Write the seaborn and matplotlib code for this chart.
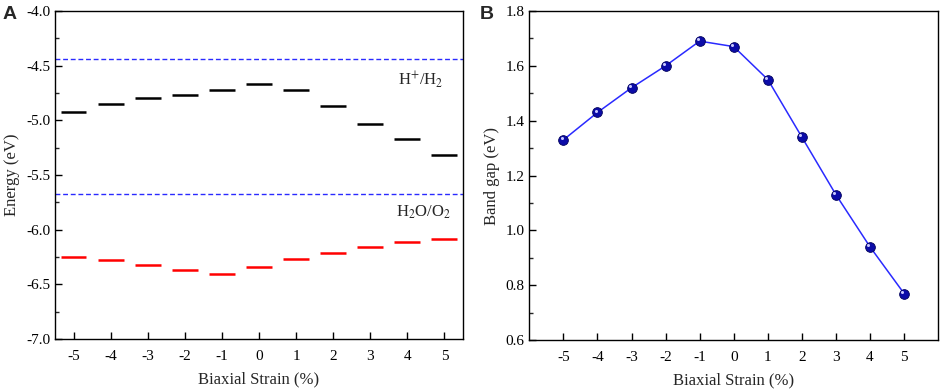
import numpy as np
import pandas as pd
import matplotlib.pyplot as plt
import matplotlib.transforms as mtrans
import seaborn as sns

# data
strain = [-5, -4, -3, -2, -1, 0, 1, 2, 3, 4, 5]
cbm = [-4.92, -4.85, -4.80, -4.77, -4.72, -4.67, -4.72, -4.87, -5.03, -5.17, -5.32]
vbm = [-6.25, -6.28, -6.32, -6.37, -6.41, -6.34, -6.27, -6.21, -6.16, -6.11, -6.09]
band_gap = [1.33, 1.43, 1.52, 1.60, 1.69, 1.67, 1.55, 1.34, 1.13, 0.94, 0.77]
h_level = -4.44
o_level = -5.67

sns.set_style("ticks")
plt.rcParams['font.family'] = ['Liberation Serif', 'DejaVu Serif']
plt.rcParams['mathtext.fontset'] = 'stix'
plt.rcParams['axes.unicode_minus'] = False

df = pd.DataFrame({'strain': strain, 'cbm': cbm, 'vbm': vbm, 'gap': band_gap})

fig = plt.figure(figsize=(9.41, 3.91), dpi=100)
ax1 = fig.add_axes([0.0584, 0.133, 0.4336, 0.839])
ax2 = fig.add_axes([0.5625, 0.130, 0.4345, 0.842])

# Panel A: band edges
x = df['strain'].to_numpy()
ax1.hlines(df['cbm'], x - 0.35, x + 0.35, color='black', lw=1.8)
ax1.hlines(df['vbm'], x - 0.35, x + 0.35, color='red', lw=1.8)
ax1.axhline(h_level, color='#2a2aff', ls=(0, (3.5, 2)), lw=1)
ax1.axhline(o_level, color='#2a2aff', ls=(0, (3.5, 2)), lw=1)
ax1.text(4.37, h_level - 0.19, r'H$^{+}$/H$_2$', ha='center', va='center', fontsize=12)
ax1.text(4.45, o_level - 0.17, r'H$_2$O/O$_2$', ha='center', va='center', fontsize=12)
ax1.set_xlim(-5.5, 5.5)
ax1.set_ylim(-7.0, -4.0)
ax1.set_yticks(np.arange(-7.0, -3.99, 0.5))
ax1.set_yticks(np.arange(-6.75, -4.0, 0.5), minor=True)
ax1.set_xticks(strain)
ax1.set_xlabel('Biaxial Strain (%)', fontsize=12, labelpad=6)
ax1.set_ylabel('Energy (eV)', fontsize=12, labelpad=4)

# Panel B: band gap
sns.lineplot(data=df, x='strain', y='gap', ax=ax2, color='#2a2aff', lw=1.1,
             marker='o', markersize=7, markerfacecolor='#0c0ca8',
             markeredgecolor='#00005a', markeredgewidth=0.6)
# little shine on each sphere
shine = mtrans.offset_copy(ax2.transData, fig=fig, x=-1.2, y=1.2, units='points')
ax2.plot(df['strain'], df['gap'], ls='none', marker='o', markersize=2.2,
         color='#c8c8ff', mec='none', transform=shine)
ax2.set_xlim(-6, 6)
ax2.set_ylim(0.6, 1.8)
ax2.set_yticks(np.arange(0.6, 1.81, 0.2))
ax2.set_yticks(np.arange(0.7, 1.8, 0.2), minor=True)
ax2.set_xticks(strain)
ax2.set_xlabel('Biaxial Strain (%)', fontsize=12, labelpad=6)
ax2.set_ylabel('Band gap (eV)', fontsize=12, labelpad=4)

for ax in (ax1, ax2):
    ax.yaxis.set_major_formatter(plt.FormatStrFormatter('%.1f'))
    ax.tick_params(direction='in', length=5, width=1, labelsize=11, colors='black')
    ax.tick_params(which='minor', direction='in', length=3, width=1)
    ax.xaxis.set_tick_params(pad=8)
    for s in ax.spines.values():
        s.set_visible(True)
        s.set_linewidth(1)
        s.set_color('black')

fig.text(0.003, 0.985, 'A', fontsize=14, fontweight='bold', family='Liberation Sans', va='top')
fig.text(0.510, 0.985, 'B', fontsize=14, fontweight='bold', family='Liberation Sans', va='top')

fig.savefig('out.png', dpi=100)
